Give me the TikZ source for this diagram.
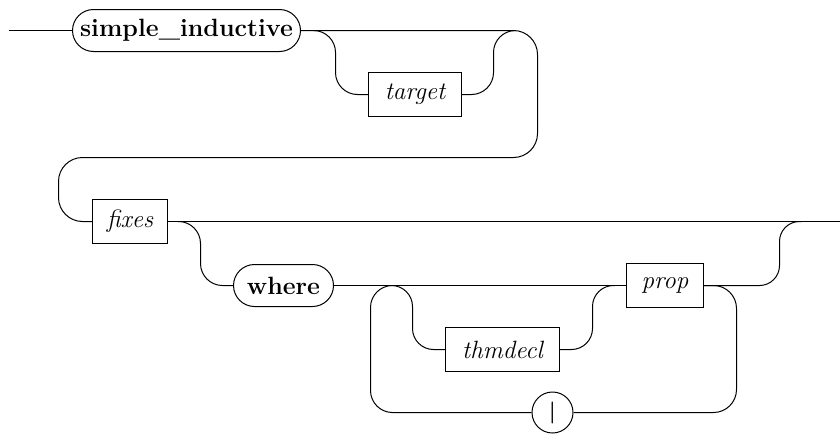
\documentclass[tikz,border=0pt]{standalone}
\usetikzlibrary{shapes.misc}
\begin{document}
\begin{tikzpicture}[x=1pt,y=-1pt,line width=1pt,
  rail/.style={rounded corners=22pt},
  term/.style={draw,rounded rectangle,inner sep=0pt,minimum height=42pt,font=\fontsize{25}{30}\selectfont\bfseries},
  nonterm/.style={draw,rectangle,inner sep=0pt,minimum height=44pt,font=\fontsize{25}{30}\selectfont\itshape},
  sepnode/.style={draw,circle,minimum size=41pt,inner sep=0pt,font=\fontsize{22}{26}\selectfont\bfseries}]
\useasboundingbox (0,0) rectangle (840,434);
\begin{scope}[xshift=0.5pt,yshift=-0.5pt]
% nodes
\node[term,minimum width=228pt] (si) at (186,30) {simple\_inductive};
\node[nonterm,minimum width=93pt] (target) at (414.5,94) {target};
\node[nonterm,minimum width=75pt] (fixes) at (129.5,221) {fixes};
\node[term,minimum width=100pt] (where) at (283,285) {where};
\node[nonterm,minimum width=114pt] (thmdecl) at (502,349) {thmdecl};
\node[nonterm,minimum width=77pt] (prop) at (664.5,285) {prop};
\node[sepnode] (bar) at (552,412) {\textbar};
% coordinates
\coordinate (start) at (8,30);
\coordinate (tl) at (313,30);
\coordinate (tr) at (515,30);
\coordinate (wl) at (177,221);
\coordinate (wr) at (801,221);
\coordinate (endp) at (840,221);
\coordinate (lj) at (391,285);
\coordinate (rj) at (614,285);
% connectors
\draw (start) -- (si.west);
\draw[rounded corners=24pt] (si.east) -- (537,30) -- (537,157) -- (58,157) -- (58,221) -- (fixes.west);
\draw[rail] (tl) -- (335,30) -- (335,94) -- (target.west);
\draw[rail] (target.east) -- (493,94) -- (493,30) -- (tr);
\draw (fixes.east) -- (endp);
\draw[rail] (wl) -- (200,221) -- (200,285) -- (where.west);
\draw (where.east) -- (prop.west);
\draw[rounded corners=20pt] (prop.east) -- (779,285) -- (779,221) -- (wr);
\draw[rounded corners=21pt] (lj) -- (412,285) -- (412,349) -- (thmdecl.west);
\draw[rounded corners=21pt] (thmdecl.east) -- (592,349) -- (592,285) -- (rj);
\draw[rounded corners=23pt] (prop.east) -- (736,285) -- (736,412) -- (bar.east);
\draw[rounded corners=22pt] (bar.west) -- (370,412) -- (370,285) -- (lj);
\end{scope}
\end{tikzpicture}
\end{document}
